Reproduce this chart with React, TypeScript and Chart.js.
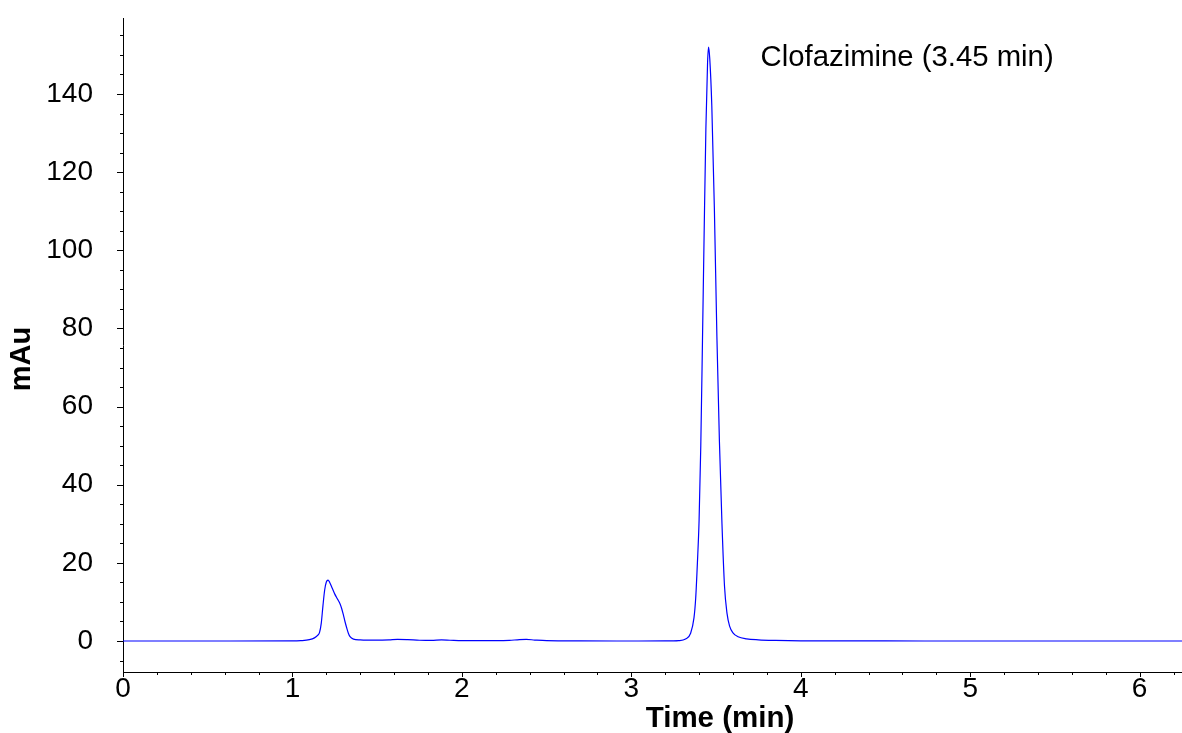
import React, { useEffect, useRef } from "react";
import { Chart, registerables } from "chart.js";

Chart.register(...registerables);

// Chromatogram (time in minutes, absorbance in mAu)
const timeMin = [
  0, 0.5, 1.0, 1.05, 1.1, 1.13, 1.15, 1.16, 1.17, 1.18, 1.19, 1.2, 1.21, 1.22,
  1.235, 1.25, 1.265, 1.28, 1.29, 1.3, 1.31, 1.32, 1.33, 1.34, 1.36, 1.4, 1.5,
  1.57, 1.62, 1.68, 1.75, 1.82, 1.88, 1.93, 2.0, 2.1, 2.2, 2.28, 2.34, 2.38,
  2.43, 2.5, 2.7, 3.0, 3.2, 3.28, 3.32, 3.35, 3.37, 3.38, 3.39, 3.4, 3.41,
  3.42, 3.43, 3.44, 3.45, 3.456, 3.463, 3.475, 3.49, 3.505, 3.52, 3.535, 3.55,
  3.565, 3.58, 3.6, 3.63, 3.68, 3.75, 3.85, 4.0, 4.5, 5.0, 6.25,
];
const mAu = [
  0, 0, 0.02, 0.1, 0.35, 0.8, 1.5, 2.2, 4.5, 9, 13, 15.1, 15.6, 15.0,
  13.5, 12.0, 10.8, 9.6, 8.4, 6.8, 5.0, 3.4, 2.0, 1.1, 0.5, 0.3, 0.22,
  0.3, 0.42, 0.35, 0.2, 0.15, 0.28, 0.2, 0.1, 0.1, 0.08, 0.15, 0.38, 0.42,
  0.25, 0.08, 0.02, 0, 0.02, 0.1, 0.5, 2.0, 6, 11, 20, 31, 50,
  77, 105, 131, 148, 152, 149, 137, 111, 78, 51, 30, 14,
  7, 3.8, 2.1, 1.1, 0.55, 0.3, 0.15, 0.05, 0.02, 0, 0,
];

const xTickLabels = ["0", "1", "2", "3", "4", "5", "6"];
const yTickLabels = ["0", "20", "40", "60", "80", "100", "120", "140"];
const peakLabel = "Clofazimine (3.45 min)";
const peakLabelAt = { time: 3.763, mAu: 147.2 };
const xTitle = "Time (min)";
const yTitle = "mAu";

const X_MIN = 0;
const X_MAX = 6.25;
const Y_MIN = -7.93;
const Y_MAX = 159.46;
const X_MAJOR = 1;
const X_MINOR = 0.2;
const Y_MAJOR = 20;
const Y_MINOR = 5;

const FONT = "'Liberation Sans', Arial, Helvetica, sans-serif";

export default function App() {
  const canvasRef = useRef<HTMLCanvasElement | null>(null);

  useEffect(() => {
    document.body.style.margin = "0";
    const canvas = canvasRef.current;
    if (!canvas) return;

    const decorPlugin = {
      id: "decor",
      afterDraw(chart: any) {
        const { ctx, scales, chartArea } = chart;
        const xs = scales.x;
        const ys = scales.y;
        ctx.save();
        ctx.strokeStyle = "#000";
        ctx.lineWidth = 1;
        ctx.beginPath();
        // y-axis ticks (major + minor), outward to the left
        const yStart = Math.ceil(Y_MIN / Y_MINOR);
        const yEnd = Math.floor(Y_MAX / Y_MINOR);
        for (let i = yStart; i <= yEnd; i++) {
          const v = i * Y_MINOR;
          const isMajor = Math.abs(v / Y_MAJOR - Math.round(v / Y_MAJOR)) < 1e-6;
          const py = Math.round(ys.getPixelForValue(v)) + 0.5;
          const len = isMajor ? 6 : 3;
          ctx.moveTo(chartArea.left - len, py);
          ctx.lineTo(chartArea.left, py);
        }
        // x-axis ticks (major + minor), outward downwards
        const xEnd = Math.floor(X_MAX / X_MINOR + 1e-6);
        for (let i = 0; i <= xEnd; i++) {
          const v = i * X_MINOR;
          const isMajor = Math.abs(v / X_MAJOR - Math.round(v / X_MAJOR)) < 1e-6;
          const px = Math.round(xs.getPixelForValue(v)) + 0.5;
          const len = isMajor ? 5 : 3;
          ctx.moveTo(px, chartArea.bottom);
          ctx.lineTo(px, chartArea.bottom + len);
        }
        ctx.stroke();

        // peak annotation
        ctx.fillStyle = "#000";
        ctx.font = `29.3px ${FONT}`;
        ctx.textAlign = "left";
        ctx.textBaseline = "alphabetic";
        ctx.fillText(
          peakLabel,
          xs.getPixelForValue(peakLabelAt.time),
          ys.getPixelForValue(peakLabelAt.mAu)
        );

        // axis titles
        ctx.font = `bold 29.5px ${FONT}`;
        ctx.textAlign = "center";
        ctx.fillText(xTitle, 720, 727);
        ctx.save();
        ctx.font = `bold 29px ${FONT}`;
        ctx.translate(30, 359);
        ctx.rotate(-Math.PI / 2);
        ctx.textAlign = "center";
        ctx.textBaseline = "alphabetic";
        ctx.fillText(yTitle, 0, 0);
        ctx.restore();
        ctx.restore();
      },
    };

    const chart = new Chart(canvas, {
      type: "line",
      data: {
        datasets: [
          {
            data: timeMin.map((t, i) => ({ x: t, y: mAu[i] })),
            borderColor: "#0000ff",
            borderWidth: 1.2,
            pointRadius: 0,
            fill: false,
            cubicInterpolationMode: "monotone",
          },
        ],
      },
      options: {
        animation: false,
        responsive: false,
        maintainAspectRatio: false,
        layout: { padding: { top: 18, right: 0, left: 0, bottom: 0 } },
        plugins: {
          legend: { display: false },
          tooltip: { enabled: false },
          title: { display: false },
        },
        scales: {
          x: {
            type: "linear",
            min: X_MIN,
            max: X_MAX,
            grid: { display: false, drawTicks: false },
            border: { display: true, color: "#000", width: 1 },
            ticks: {
              stepSize: X_MAJOR,
              includeBounds: false,
              autoSkip: false,
              maxRotation: 0,
              padding: 0,
              color: "#000",
              font: { family: FONT, size: 28 },
              callback: (v: any) => {
                const idx = Math.round(Number(v));
                return xTickLabels[idx] ?? "";
              },
            },
            afterFit: (s: any) => {
              s.height = 61;
              s.paddingLeft = 0;
              s.paddingRight = 0;
              s.paddingTop = 0;
              s.paddingBottom = 0;
            },
          },
          y: {
            type: "linear",
            min: Y_MIN,
            max: Y_MAX,
            grid: { display: false, drawTicks: false },
            border: { display: true, color: "#000", width: 1 },
            ticks: {
              stepSize: Y_MAJOR,
              includeBounds: false,
              autoSkip: false,
              padding: 30,
              color: "#000",
              font: { family: FONT, size: 28 },
              callback: (v: any) => {
                const idx = Math.round(Number(v) / Y_MAJOR);
                return yTickLabels[idx] ?? "";
              },
            },
            afterFit: (s: any) => {
              s.width = 123;
              s.paddingLeft = 0;
              s.paddingRight = 0;
              s.paddingTop = 0;
              s.paddingBottom = 0;
            },
          },
        },
      },
      plugins: [decorPlugin],
    });

    return () => chart.destroy();
  }, []);

  return (
    <div style={{ width: 1182, height: 733, background: "#fff" }}>
      <canvas ref={canvasRef} width={1182} height={733} style={{ display: "block" }} />
    </div>
  );
}
